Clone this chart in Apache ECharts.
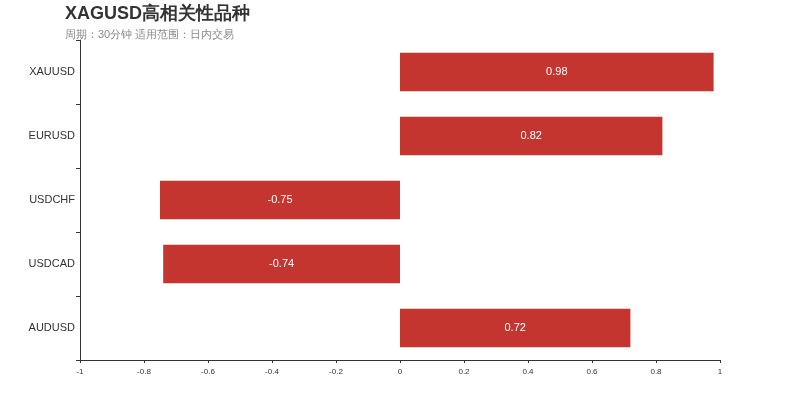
<!DOCTYPE html><html><head><meta charset="utf-8"><script src="https://cdn.jsdelivr.net/npm/echarts@6/dist/echarts.min.js"></script></head><body style="margin:0"><div id="c" style="width:800px;height:400px"></div><script>
const categories=['XAUUSD','EURUSD','USDCHF','USDCAD','AUDUSD'];
const values=[0.98,0.82,-0.75,-0.74,0.72];
const chart=echarts.init(document.getElementById('c'));
chart.setOption({
 title:{text:'XAGUSD高相关性品种',subtext:'周期：30分钟 适用范围：日内交易',left:60,top:0,itemGap:6,
  textStyle:{fontSize:18,fontWeight:'bold',color:'#333'},subtextStyle:{fontSize:11,color:'#888'}},
 grid:{left:80,right:80,top:40,bottom:40},
 xAxis:{type:'value',min:-1,max:1,interval:0.2,splitLine:{show:false},
  axisLine:{show:true,lineStyle:{color:'#333'}},axisTick:{show:true,length:3},
  axisLabel:{fontSize:8,color:'#333',formatter:v=>String(Math.round(v*10)/10)}},
 yAxis:[{type:'category',data:categories,inverse:true,axisLine:{show:false},axisTick:{show:false},
   axisLabel:{fontSize:11,color:'#333',margin:5}},
  {type:'category',data:categories,inverse:true,position:'left',axisLine:{show:true,onZero:true,lineStyle:{color:'#333'}},
   axisTick:{show:true,length:4},axisLabel:{show:false}}],
 series:[{type:'bar',data:values,barWidth:'60%',itemStyle:{color:'#c43530'},
  label:{show:true,position:'inside',color:'#fff',fontSize:11}}]
});
</script></body></html>
